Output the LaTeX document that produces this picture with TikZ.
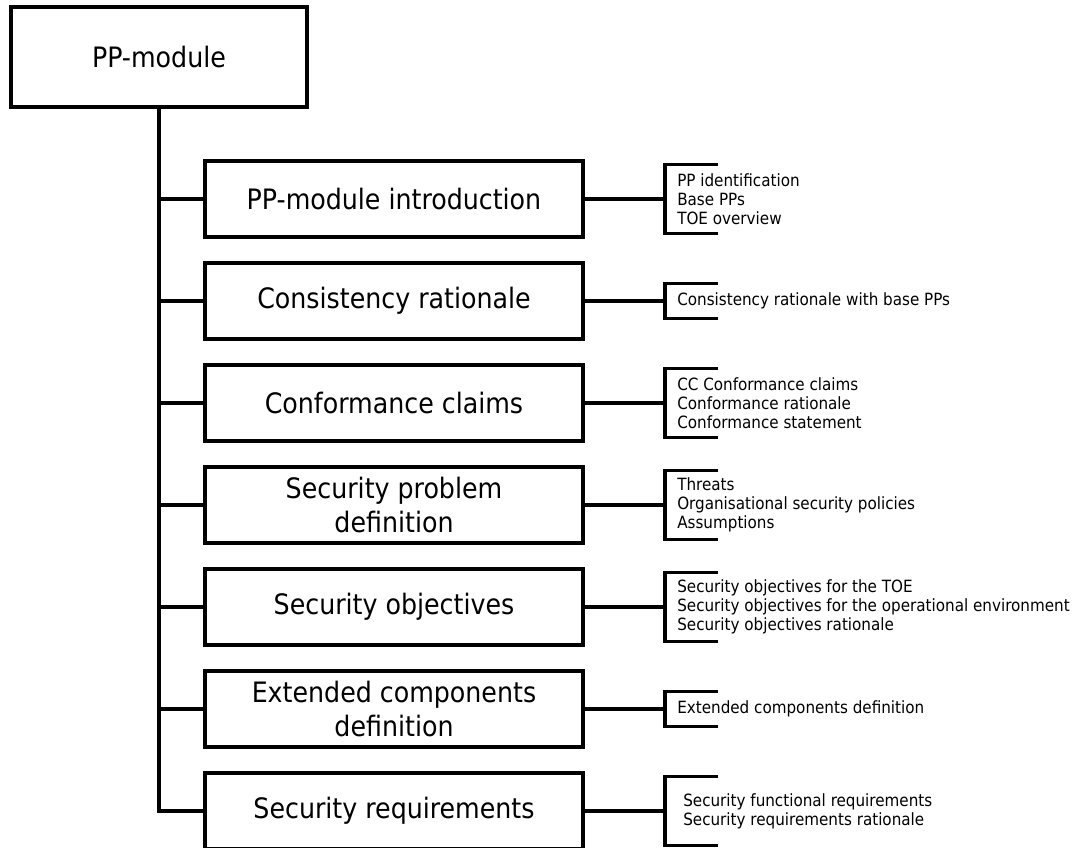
\documentclass[tikz,border=0pt]{standalone}
\usepackage{fontspec}
\setmainfont{DejaVu Sans Condensed}

\begin{document}
\begin{tikzpicture}[
    part/.style={draw=black, line width=2.2pt, minimum width=9.45cm, minimum height=1.9cm, align=center, font=\fontsize{20}{23.5}\selectfont},
    items/.style={anchor=west, align=left, inner xsep=0.3cm, inner ysep=0pt, minimum height=#1, font=\fontsize{12}{13.5}\selectfont},
    link/.style={line width=2.2pt}
    ]
    \useasboundingbox (0,0) rectangle (27,-21.175);

    \node [part, minimum width=7.4cm, minimum height=2.5cm] (pp) at (3.975,-1.425) {PP-module};

    \node [part] (b1) at (9.85,-4.975)  {PP-module introduction};
    \node [part] (b2) at (9.85,-7.525)  {Consistency rationale};
    \node [part] (b3) at (9.85,-10.075) {Conformance claims};
    \node [part] (b4) at (9.85,-12.625) {Security problem\\definition};
    \node [part] (b5) at (9.85,-15.175) {Security objectives};
    \node [part] (b6) at (9.85,-17.725) {Extended components\\definition};
    \node [part] (b7) at (9.85,-20.275) {Security requirements};

    \node [items=1.725cm] (t1) at (16.625,-4.975)  {PP identification\\Base PPs\\TOE overview};
    \node [items=0.85cm]  (t2) at (16.625,-7.525)  {Consistency rationale with base PPs};
    \node [items=1.725cm] (t3) at (16.625,-10.075) {CC Conformance claims\\Conformance rationale\\Conformance statement};
    \node [items=1.725cm] (t4) at (16.625,-12.625) {Threats\\Organisational security policies\\Assumptions};
    \node [items=1.725cm] (t5) at (16.625,-15.175) {Security objectives for the TOE\\Security objectives for the operational environment\\Security objectives rationale};
    \node [items=0.85cm]  (t6) at (16.625,-17.725) {Extended components definition};
    \node [items=1.725cm, inner xsep=0.45cm] (t7) at (16.625,-20.275) {Security functional requirements\\Security requirements rationale};

    % trunk and branches
    \draw [link] (pp) |- (b7);
    \foreach \n in {1,...,6}
      \draw [link] (pp.south |- b\n) -- (b\n);

    % brackets on the right
    \foreach \n in {1,...,7} {
      \draw [link] (b\n) -- (t\n);
      \draw [link] ([xshift=1.325cm]t\n.north west) -| (t\n.south west) -- ++(1.325,0);
    }
\end{tikzpicture}
\end{document}
